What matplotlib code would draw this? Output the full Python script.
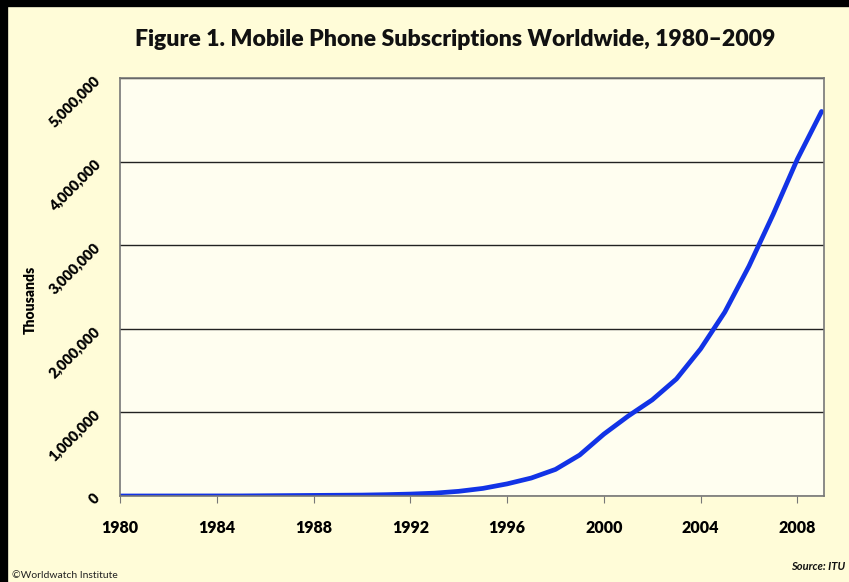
import matplotlib
matplotlib.use("Agg")
import matplotlib.pyplot as plt
from matplotlib.lines import Line2D
from matplotlib.ticker import FuncFormatter

years = [1980, 1985, 1990, 1991, 1992, 1993, 1994, 1995, 1996, 1997, 1998, 1999,
         2000, 2001, 2002, 2003, 2004, 2005, 2006, 2007, 2008, 2009]
subs_thousands = [23, 1000, 11000, 16000, 23000, 34000, 56000, 91000, 145000, 215000,
                  318000, 490000, 740000, 955000, 1150000, 1400000, 1760000, 2200000,
                  2750000, 3370000, 4030000, 4600000]
x_ticks = [1980, 1984, 1988, 1992, 1996, 2000, 2004, 2008]
y_ticks = [0, 1000000, 2000000, 3000000, 4000000, 5000000]

plt.rcParams['font.family'] = ['Lato', 'DejaVu Sans']

fig = plt.figure(figsize=(8.49, 5.82), dpi=100)
fig.patch.set_facecolor('#FFFCD8')
ax = fig.add_axes([120/849, 1-496/582, (824-120)/849, (496-78)/582])
ax.set_facecolor('#FFFEF0')

ax.plot(years, subs_thousands, color='#1233E6', lw=3.4, solid_capstyle='round')

ax.set_xlim(1980, 2009.1)
ax.set_ylim(0, 5000000)
ax.set_xticks(x_ticks)
ax.set_xticklabels([str(t) for t in x_ticks], fontsize=11.5, fontweight='heavy')
ax.set_yticks(y_ticks)
ax.yaxis.set_major_formatter(FuncFormatter(lambda v, p: f"{int(v):,}"))
for lab in ax.get_yticklabels():
    lab.set_rotation(45)
    lab.set_fontsize(10.5)
    lab.set_fontweight('heavy')
    lab.set_ha('right')
    lab.set_va('center')
    lab.set_rotation_mode('anchor')

ax.grid(axis='y', color='#222222', lw=1.0)
ax.set_axisbelow(True)
for s in ['left', 'right', 'top', 'bottom']:
    ax.spines[s].set_color('#777777')
    ax.spines[s].set_linewidth(1.2)
ax.tick_params(axis='x', direction='out', length=5, color='#777777', pad=12)
ax.tick_params(axis='y', length=0, pad=16)

fig.text(30/849, 1-300/582, 'Thousands', rotation=90, ha='center', va='center',
         fontsize=10, fontweight='heavy')
fig.text(455/849, 1-40/582, 'Figure 1. Mobile Phone Subscriptions Worldwide, 1980\u20132009',
         ha='center', va='center', fontsize=16.6, fontweight='heavy', color='#111111')
fig.text(12/849, 1-576/582, '\u00a9Worldwatch Institute', ha='left', va='center',
         fontsize=7.5, color='#222222')
fig.text(845/849, 1-566/582, 'Source: ITU', ha='right', va='center',
         fontsize=8, fontweight='bold', style='italic', color='#111111')

fig.add_artist(Line2D([4/849, 4/849], [0, 1], transform=fig.transFigure, color='black', lw=6))
fig.add_artist(Line2D([0, 1], [1-3/582, 1-3/582], transform=fig.transFigure, color='black', lw=6))

fig.savefig('out.png', dpi=100, facecolor=fig.get_facecolor())
